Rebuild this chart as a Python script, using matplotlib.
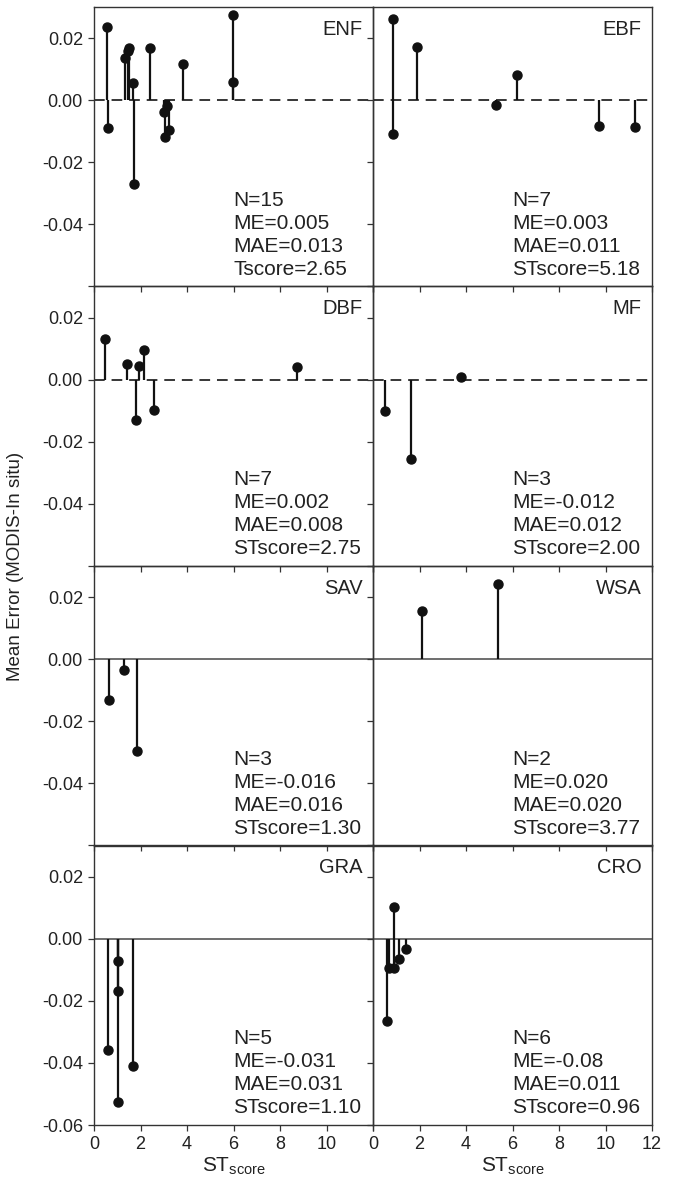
"""Mean error of MODIS vs in situ by land cover class, against ST score."""
import matplotlib

matplotlib.use("Agg")
import matplotlib.pyplot as plt

plt.rcParams["font.family"] = ["Liberation Sans", "DejaVu Sans"]
plt.rcParams["axes.unicode_minus"] = False
plt.rcParams["mathtext.fontset"] = "custom"
plt.rcParams["mathtext.rm"] = "Liberation Sans"
plt.rcParams["mathtext.it"] = "Liberation Sans"

# class labels, panel order (row-major, 2 columns)
classes = ["ENF", "EBF", "DBF", "MF", "SAV", "WSA", "GRA", "CRO"]

# ST score (x) and mean error (y) per class
enf_x = [0.55, 0.62, 1.32, 1.45, 1.52, 1.66, 1.70, 2.41, 3.01, 3.05, 3.13, 3.21, 3.81, 5.96, 5.96]
enf_y = [0.0234, -0.0091, 0.0135, 0.0158, 0.0168, 0.0056, -0.0269, 0.0169,
         -0.0038, -0.0118, -0.0019, -0.0097, 0.0116, 0.0275, 0.0059]
ebf_x = [0.85, 0.85, 1.91, 5.29, 6.21, 9.74, 11.27]
ebf_y = [0.0260, -0.0108, 0.0170, -0.0016, 0.0081, -0.0083, -0.0087]
dbf_x = [0.47, 1.41, 1.94, 2.15, 1.79, 2.58, 8.75]
dbf_y = [0.0131, 0.0052, 0.0043, 0.0095, -0.0129, -0.0099, 0.0040]
mf_x = [0.52, 1.62, 3.79]
mf_y = [-0.0102, -0.0256, 0.0009]
sav_x = [0.65, 1.31, 1.86]
sav_y = [-0.0132, -0.0035, -0.0296]
wsa_x = [2.09, 5.39]
wsa_y = [0.0154, 0.0242]
gra_x = [0.59, 1.02, 1.02, 1.02, 1.69]
gra_y = [-0.0359, -0.0072, -0.0169, -0.0527, -0.0409]
cro_x = [0.89, 0.59, 0.70, 0.90, 1.12, 1.43]
cro_y = [0.0102, -0.0266, -0.0096, -0.0096, -0.0067, -0.0032]

stats = [
    "N=15\nME=0.005\nMAE=0.013\nTscore=2.65",
    "N=7\nME=0.003\nMAE=0.011\nSTscore=5.18",
    "N=7\nME=0.002\nMAE=0.008\nSTscore=2.75",
    "N=3\nME=-0.012\nMAE=0.012\nSTscore=2.00",
    "N=3\nME=-0.016\nMAE=0.016\nSTscore=1.30",
    "N=2\nME=0.020\nMAE=0.020\nSTscore=3.77",
    "N=5\nME=-0.031\nMAE=0.031\nSTscore=1.10",
    "N=6\nME=-0.08\nMAE=0.011\nSTscore=0.96",
]

x_ticks = [0, 2, 4, 6, 8, 10, 12]
y_ticks = [-0.06, -0.04, -0.02, 0.0, 0.02]

xs = [enf_x, ebf_x, dbf_x, mf_x, sav_x, wsa_x, gra_x, cro_x]
ys = [enf_y, ebf_y, dbf_y, mf_y, sav_y, wsa_y, gra_y, cro_y]

fig, axes = plt.subplots(4, 2, figsize=(6.76, 11.78), dpi=100)
fig.subplots_adjust(left=94 / 676, right=652 / 676, top=1 - 7 / 1178,
                    bottom=1 - 1125 / 1178, wspace=0, hspace=0)

for i, ax in enumerate(axes.flat):
    row, col = divmod(i, 2)
    ax.set_facecolor("none")
    ax.set_zorder(10 - row)
    if row < 2:
        ax.axhline(0, color="black", lw=1.1, ls=(0, (7, 4.5)), zorder=1)
    else:
        ax.axhline(0, color="#555555", lw=1.2, zorder=1)
    ax.vlines(xs[i], 0, ys[i], color="#111111", lw=1.6, zorder=2)
    ax.plot(xs[i], ys[i], "o", color="#111111", ms=6.5, zorder=3)
    ax.text(0.962, 0.955, classes[i], transform=ax.transAxes, ha="right", va="top",
            fontsize=14.5, color="#222222")
    ax.text(6, -0.0575, stats[i], ha="left", va="bottom", fontsize=15,
            linespacing=1.27, color="#222222")
    ax.set_xlim(0, 12)
    ax.set_ylim(-0.06, 0.03)
    ax.set_xticks(x_ticks)
    ax.set_yticks(y_ticks)
    ax.set_xticklabels([str(t) for t in x_ticks])
    ax.set_yticklabels([f"{t:.2f}" for t in y_ticks])
    for s in ax.spines.values():
        s.set_color("#333333")
        s.set_linewidth(1.0)
    ax.tick_params(direction="out", length=4.5, width=0.9, color="#333333",
                   labelsize=13, labelcolor="#222222", top=False, right=False,
                   bottom=True, left=True,
                   labelbottom=(row == 3), labelleft=(col == 0))
    if col == 0 and row < 3:
        ax.get_yticklabels()[0].set_visible(False)
    if row == 3:
        if col == 0:
            ax.get_xticklabels()[-1].set_visible(False)
        ax.set_xlabel(r"ST$_{\mathrm{score}}$", fontsize=15, labelpad=2, color="#222222")

fig.text(16 / 676, 0.5 + (1178 / 2 - 566) / 1178, "Mean Error (MODIS-In situ)", rotation=90,
         ha="center", va="center", fontsize=13.5, color="#222222")

fig.savefig("out.png", dpi=100)
